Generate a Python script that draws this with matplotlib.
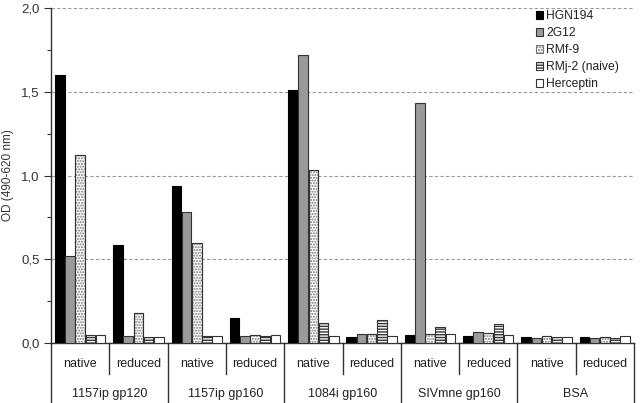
import matplotlib
matplotlib.use("Agg")
import matplotlib.pyplot as plt
from matplotlib.ticker import MultipleLocator, FuncFormatter
import numpy as np

plt.rcParams['font.family'] = ['Liberation Sans', 'DejaVu Sans']

groups = ["1157ip gp120", "1157ip gp160", "1084i gp160", "SIVmne gp160", "BSA"]
conditions = ["native", "reduced"]
series = ["HGN194", "2G12", "RMf-9", "RMj-2 (naive)", "Herceptin"]

# values per sub-category (group x condition), in order
hgn194 = [1.60, 0.585, 0.94, 0.15, 1.51, 0.035, 0.045, 0.04, 0.035, 0.035]
g2g12 = [0.52, 0.04, 0.78, 0.04, 1.72, 0.055, 1.43, 0.063, 0.03, 0.03]
rmf9 = [1.12, 0.18, 0.60, 0.05, 1.03, 0.055, 0.055, 0.06, 0.04, 0.035]
rmj2 = [0.045, 0.035, 0.04, 0.04, 0.12, 0.137, 0.095, 0.113, 0.035, 0.03]
herceptin = [0.05, 0.035, 0.04, 0.045, 0.04, 0.04, 0.055, 0.05, 0.035, 0.04]

data = [hgn194, g2g12, rmf9, rmj2, herceptin]
styles = [
    dict(color="black", edgecolor="black", hatch=None),
    dict(color="#9a9a9a", edgecolor="#333333", hatch=None),
    dict(color="white", edgecolor="#777777", hatch="......"),
    dict(color="white", edgecolor="#333333", hatch="------"),
    dict(color="white", edgecolor="#333333", hatch=None),
]

fig = plt.figure(figsize=(6.4, 4.03), dpi=100)
ax = fig.add_axes([51/640, 1-343/403, 583/640, 335/403])

n = len(hgn194)
x = np.arange(n)
step = 0.175
width = 0.166
handles = []
for i, (vals, st) in enumerate(zip(data, styles)):
    pos = x + (i - 2) * step
    b = ax.bar(pos, vals, width=width, color=st["color"], edgecolor=st["edgecolor"],
               hatch=st["hatch"], linewidth=0.8, label=series[i], zorder=3)
    if st["hatch"] == "......":
        ax.bar(pos, vals, width=width, fill=False, edgecolor="#333333", linewidth=0.8, zorder=4)
    handles.append(b)

ax.set_xlim(-0.5, n - 0.5)
ax.set_ylim(0, 2.0)
ax.yaxis.set_major_locator(MultipleLocator(0.5))
ax.yaxis.set_minor_locator(MultipleLocator(0.25))
ax.yaxis.set_major_formatter(FuncFormatter(lambda v, p: f"{v:.1f}".replace(".", ",")))
ax.tick_params(axis='y', which='major', length=5, width=0.8, labelsize=9.5, colors="#333333", pad=3)
ax.tick_params(axis='y', which='minor', length=3, width=0.8, colors="#333333")
ax.tick_params(axis='x', bottom=False, labelbottom=False)
for s in ["top", "right"]:
    ax.spines[s].set_visible(False)
ax.spines["left"].set_color("#333333")
ax.spines["bottom"].set_color("#333333")
ax.spines["left"].set_linewidth(1.0)
ax.spines["bottom"].set_linewidth(1.0)
ax.yaxis.grid(True, which='major', linestyle=(0, (3, 2)), color="#999999", linewidth=0.8, zorder=0)
ax.set_axisbelow(True)
ax.set_ylabel("OD (490-620 nm)", fontsize=8.5, color="#333333")
ax.yaxis.set_label_coords(-0.064, 0.5)

trans = ax.get_xaxis_transform()
for k in range(n):
    ax.text(x[k], -0.063, conditions[k % 2], transform=trans, ha="center", va="center",
            fontsize=9, color="#222222")
for g, name in enumerate(groups):
    ax.text(2 * g + 0.5, -0.152, name, transform=trans, ha="center", va="center",
            fontsize=9, color="#222222")
for k in range(n + 1):
    xb = k - 0.5
    y1 = -0.179 if k % 2 == 0 else -0.0925
    ax.plot([xb, xb], [0, y1], transform=trans, color="#333333", linewidth=1.0, clip_on=False)

leg = ax.legend(handles=handles, loc="upper left", bbox_to_anchor=(0.832, 0.994), frameon=False,
                fontsize=8.7, handlelength=0.6, handleheight=0.6, handletextpad=0.25,
                labelspacing=0.42, borderaxespad=0, borderpad=0)
for t in leg.get_texts():
    t.set_color("#222222")

fig.savefig("out.png", dpi=100)
